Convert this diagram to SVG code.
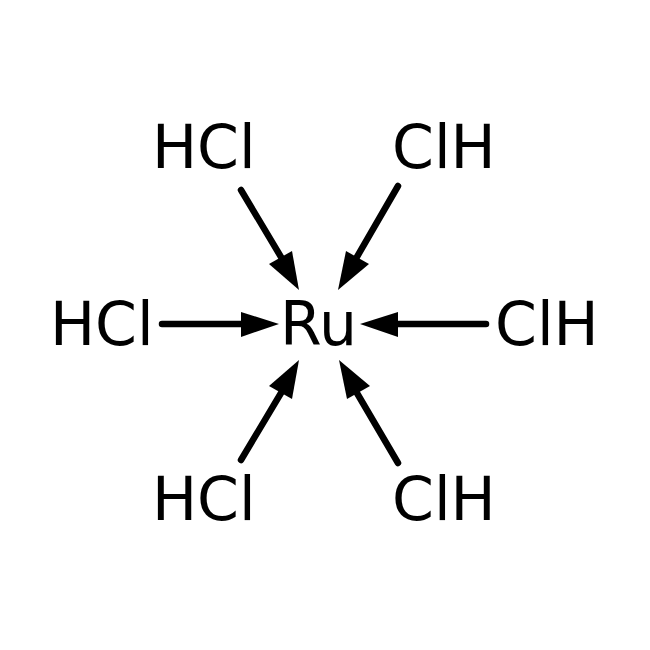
<svg xmlns="http://www.w3.org/2000/svg" width="650" height="650" viewBox="0 0 650 650">
<style>
text{font-family:"DejaVu Sans",sans-serif;font-size:60px;fill:#000}
.b{stroke:#000;stroke-width:6.5;fill:none;stroke-linecap:round}
.h{fill:#000;stroke:none}
</style>
<rect width="650" height="650" fill="#fff"/>
<g id="connectors">
<path class="b" d="M241 190L284 262"/><polygon class="h" points="299,290 269,264 292,251"/>
<path class="b" d="M398 186L354 262"/><polygon class="h" points="338,290 346,251 369,264"/>
<path class="b" d="M162 324L250 324"/><polygon class="h" points="279,324 241,312 241,337"/>
<path class="b" d="M486 324L392 324"/><polygon class="h" points="360,324 398,312 398,337"/>
<path class="b" d="M241 460L284 388"/><polygon class="h" points="299,360 269,386 292,399"/>
<path class="b" d="M398 463L354 388"/><polygon class="h" points="339,360 347,399 370,386"/>
</g>
<g id="ru"><text x="280" y="345">Ru</text></g>
<g id="hcl-top"><text x="152" y="168">HCl</text></g>
<g id="clh-top"><text x="392" y="168">ClH</text></g>
<g id="hcl-left"><text x="50" y="345">HCl</text></g>
<g id="clh-right"><text x="495" y="345">ClH</text></g>
<g id="hcl-bottom"><text x="152" y="520">HCl</text></g>
<g id="clh-bottom"><text x="392" y="520">ClH</text></g>
</svg>
